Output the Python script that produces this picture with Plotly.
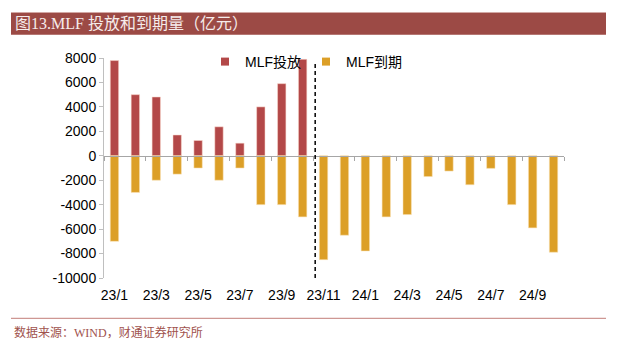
import plotly.graph_objects as go

categories = ["23/1", "23/2", "23/3", "23/4", "23/5", "23/6", "23/7", "23/8", "23/9", "23/10",
              "23/11", "23/12", "24/1", "24/2", "24/3", "24/4", "24/5", "24/6", "24/7", "24/8",
              "24/9", "24/10"]
mlf_invest = [7790, 5000, 4810, 1700, 1250, 2370, 1030, 4000, 5900, 7890,
              None, None, None, None, None, None, None, None, None, None, None, None]
mlf_expire = [-7000, -3000, -2000, -1500, -1000, -2000, -1000, -4000, -4000, -5000,
              -8500, -6500, -7790, -5000, -4810, -1700, -1250, -2370, -1030, -4000,
              -5900, -7890]
y_ticks = [8000, 6000, 4000, 2000, 0, -2000, -4000, -6000, -8000, -10000]
y_ticktext = ["8000", "6000", "4000", "2000", "0", "-2000", "-4000", "-6000", "-8000", "-10000"]
y_range = [-10000, 8000]
divider_pos = 9.6
divider_top = 7700

title_text = "图13.MLF 投放和到期量（亿元）"
source_text = "数据来源：WIND，财通证券研究所"
name_invest = "MLF投放"
name_expire = "MLF到期"

RED = "#B34848"
YEL = "#DC9F27"
BRICK = "#9C4A45"

W, H = 618, 344
ml, mr, mt, mb = 104, 54, 58, 66
pw, ph = W - ml - mr, H - mt - mb

def px2x(p):
    return (p - ml) / pw

def px2y(p):
    return (H - mb - p) / ph

fig = go.Figure()
fig.add_trace(go.Bar(x=categories, y=mlf_invest, name=name_invest, marker_color=RED,
                     marker_line=dict(color="rgba(250,215,205,0.9)", width=0.6),
                     width=0.4, showlegend=False, xaxis="x", yaxis="y"))
fig.add_trace(go.Bar(x=categories, y=mlf_expire, name=name_expire, marker_color=YEL,
                     marker_line=dict(color="rgba(250,225,180,0.9)", width=0.6),
                     width=0.4, showlegend=False, xaxis="x", yaxis="y"))
# legend entries
fig.add_trace(go.Scatter(x=[None], y=[None], mode="markers", name=name_invest,
                         marker=dict(symbol="square", size=8, color=RED)))
fig.add_trace(go.Scatter(x=[None], y=[None], mode="markers", name=name_expire,
                         marker=dict(symbol="square", size=8, color=YEL)))
# invisible trace carrying the bottom tick labels
fig.add_trace(go.Scatter(x=categories, y=[0] * len(categories), mode="markers",
                         marker=dict(opacity=0), showlegend=False, hoverinfo="skip",
                         xaxis="x2", yaxis="y"))

zero_pos = (0 - y_range[0]) / (y_range[1] - y_range[0])

fig.update_layout(
    width=W, height=H,
    margin=dict(l=ml, r=mr, t=mt, b=mb),
    paper_bgcolor="white", plot_bgcolor="white",
    barmode="relative",
    font=dict(family="Liberation Sans, Arial, Noto Sans CJK SC", size=14, color="#000"),
    xaxis=dict(type="category", range=[-0.5, len(categories) - 0.5], anchor="free",
               position=zero_pos, showline=True, linecolor="#A6A6A6", linewidth=1,
               ticks="outside", tickson="boundaries", dtick=2, ticklen=4,
               tickcolor="#A6A6A6", showticklabels=False, showgrid=False, zeroline=False),
    xaxis2=dict(type="category", range=[-0.5, len(categories) - 0.5], overlaying="x",
                anchor="y", side="bottom", showline=False, ticks="", dtick=2,
                showgrid=False, zeroline=False, ticklabelstandoff=7,
                tickfont=dict(size=14, color="#000")),
    yaxis=dict(range=y_range, tickvals=y_ticks, ticktext=y_ticktext, showline=True,
               linecolor="#BFBFBF", linewidth=1, ticks="outside", ticklen=4,
               tickcolor="#BFBFBF", showgrid=False, zeroline=False,
               tickfont=dict(size=14, color="#000")),
    legend=dict(orientation="h", x=px2x(205), y=px2y(62), xanchor="left", yanchor="middle",
                font=dict(size=14, color="#000"), bgcolor="rgba(0,0,0,0)",
                itemwidth=30, tracegroupgap=0),
    shapes=[
        dict(type="rect", xref="paper", yref="paper", x0=px2x(11), x1=px2x(606),
             y0=px2y(34.7), y1=px2y(12.3), fillcolor=BRICK, line=dict(width=0), layer="below"),
        dict(type="line", xref="paper", yref="paper", x0=px2x(11), x1=px2x(606),
             y0=px2y(12.5), y1=px2y(12.5), line=dict(color="#D2A8A4", width=1)),
        dict(type="line", xref="paper", yref="paper", x0=px2x(11), x1=px2x(606),
             y0=px2y(318.3), y1=px2y(318.3), line=dict(color="#C27E78", width=1)),
        dict(type="line", xref="x", yref="y", x0=divider_pos, x1=divider_pos,
             y0=y_range[0], y1=divider_top, line=dict(color="#000", width=1.5, dash="4px,3px")),
    ],
    annotations=[
        dict(text=title_text, xref="paper", yref="paper", x=px2x(13), y=px2y(23.5),
             xanchor="left", yanchor="middle", showarrow=False,
             font=dict(family="Liberation Serif, Noto Sans CJK SC", size=16, color="#F6ECEB")),
        dict(text=source_text, xref="paper", yref="paper", x=px2x(12), y=px2y(332.7),
             xanchor="left", yanchor="middle", showarrow=False,
             font=dict(family="Liberation Serif, Noto Sans CJK SC", size=12, color="#A0524D")),
    ],
)

fig.write_html("out.html")
